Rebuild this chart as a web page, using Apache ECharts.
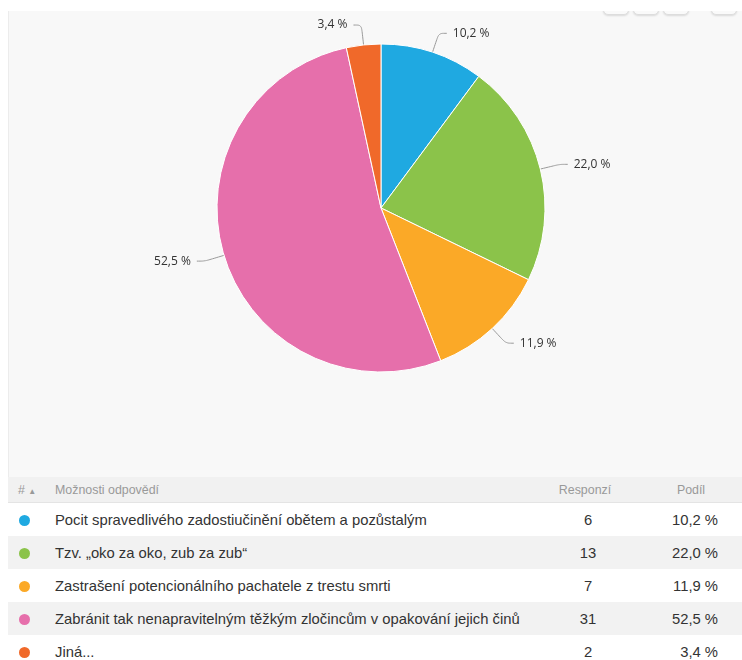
<!DOCTYPE html>
<html>
<head>
<meta charset="utf-8">
<script src="https://cdn.jsdelivr.net/npm/echarts@6/dist/echarts.min.js"></script>
<style>
  html, body { margin: 0; padding: 0; background: #fff; width: 742px; height: 660px; overflow: hidden; }
  #chart { position: absolute; left: 8px; top: 11px; width: 734px; height: 466px; background: #f8f8f8; border-left: 1px solid #ececec; box-sizing: border-box; z-index: 0; }
  .btn { position: absolute; top: -12px; width: 24px; height: 25px; border: 1px solid #ddd; border-radius: 5px; background: #fafafa; box-shadow: 0 1px 2px rgba(0,0,0,0.12); z-index: 1; }
  #cover { position: absolute; left: 0; top: 0; width: 742px; height: 11px; background: #fff; z-index: 2; }
  #tbl { position: absolute; left: 8px; top: 477px; width: 734px; border-collapse: collapse; table-layout: fixed; font-family: "Liberation Sans", Arial, sans-serif; }
  #tbl th { height: 25px; background: #f1f1f1; color: #999; font-weight: normal; font-size: 12.4px; border-bottom: 1px solid #e4e4e4; padding: 0; }
  #tbl td { height: 33px; font-size: 14.8px; color: #333; padding: 0; }
  #tbl tr.alt td { background: #f2f2f2; }
  .dot { display: inline-block; width: 11px; height: 11px; border-radius: 50%; vertical-align: middle; }
</style>
</head>
<body>
<div id="chart"></div>
<div class="btn" style="left:603px"></div>
<div class="btn" style="left:633px"></div>
<div class="btn" style="left:663px"></div>
<div class="btn" style="left:711px"></div>
<div id="cover"></div>
<table id="tbl">
  <colgroup><col style="width:47px"><col style="width:475px"><col style="width:110px"><col style="width:102px"></colgroup>
  <thead><tr>
    <th style="text-align:left;padding-left:10px">#&nbsp;<span style="font-size:8px">&#9650;</span></th>
    <th style="text-align:left">Možnosti odpovědí</th>
    <th style="text-align:center">Responzí</th>
    <th style="text-align:center">Podíl</th>
  </tr></thead>
  <tbody id="rows"></tbody>
</table>
<script>
const categories = [
  'Pocit spravedlivého zadostiučinění obětem a pozůstalým',
  'Tzv. „oko za oko, zub za zub“',
  'Zastrašení potencionálního pachatele z trestu smrti',
  'Zabránit tak nenapravitelným těžkým zločincům v opakování jejich činů',
  'Jiná...'
]
const responses = [6, 13, 7, 31, 2]
const shares = ['10,2 %', '22,0 %', '11,9 %', '52,5 %', '3,4 %']
const colors = ['#1fa9e1', '#8bc34a', '#fba927', '#e66fab', '#f0692a']

// table below the chart
const tbody = document.getElementById('rows')
categories.forEach((name, i) => {
  const tr = document.createElement('tr')
  if (i % 2 === 1) tr.className = 'alt'
  tr.innerHTML =
    `<td style="padding-left:11px"><span class="dot" style="background:${colors[i]}"></span></td>` +
    `<td>${name}</td>` +
    `<td style="text-align:center;padding-left:6px">${responses[i]}</td>` +
    `<td style="text-align:right;padding-right:24px">${shares[i]}</td>`
  tbody.appendChild(tr)
})

const chart = echarts.init(document.getElementById('chart'))
chart.setOption({
  animation: false,
  series: [{
    type: 'pie',
    center: [372, 197],
    radius: 164,
    startAngle: 90,
    clockwise: true,
    data: categories.map((name, i) => ({
      name,
      value: responses[i],
      itemStyle: { color: colors[i] }
    })),
    itemStyle: { borderColor: '#fff', borderWidth: 1 },
    label: {
      show: true,
      formatter: p => shares[p.dataIndex],
      color: '#333',
      fontSize: 12,
      fontFamily: 'Open Sans',
      distanceToLabelLine: 6
    },
    labelLine: {
      show: true,
      length: 20,
      length2: 8,
      smooth: true,
      lineStyle: { color: '#999', width: 1 }
    },
    emphasis: { disabled: true }
  }]
})
</script>
</body>
</html>
